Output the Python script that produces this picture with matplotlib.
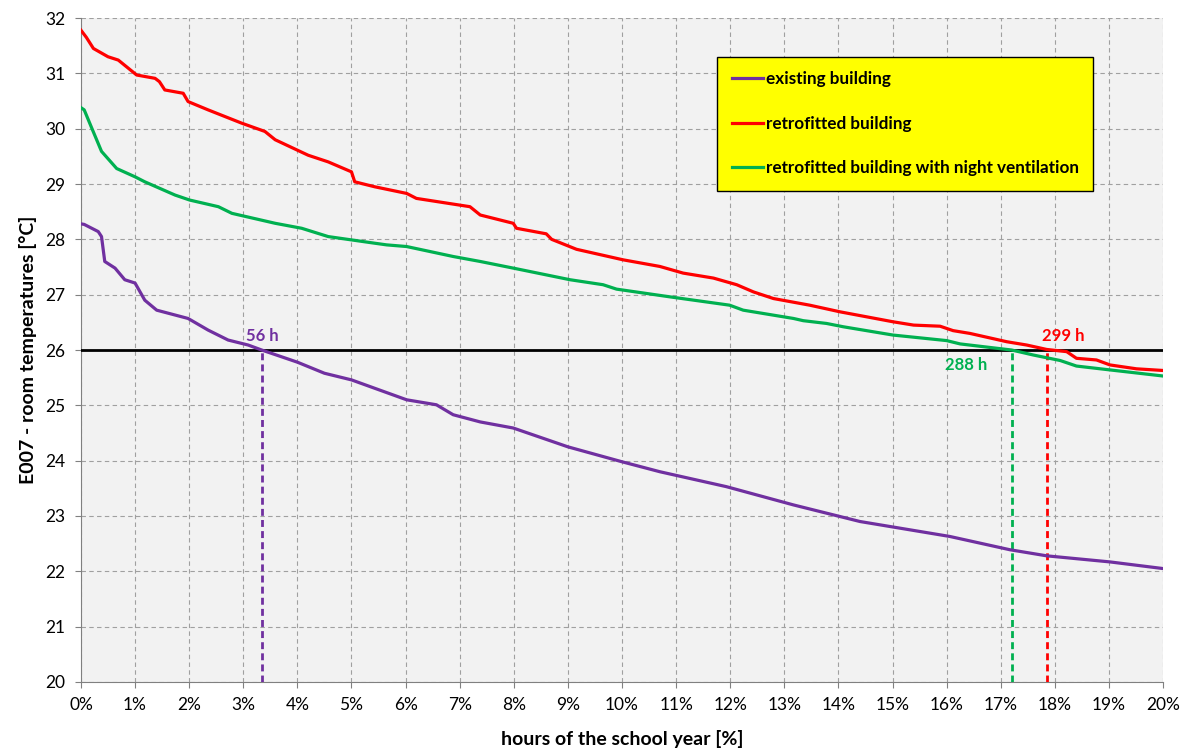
import matplotlib.pyplot as plt

plt.rcParams['font.family'] = ['Lato', 'DejaVu Sans']

# hours of the school year [%] / room temperature [°C]
x_exist = [0, 0.06, 0.32, 0.38, 0.44, 0.63, 0.81, 1.0, 1.18, 1.40, 1.98, 2.35, 2.72, 3.09, 3.34,
           4.0, 4.5, 5.0, 5.34, 6.02, 6.57, 6.88, 7.38, 7.99, 9.0, 10.0, 10.7, 11.93, 13.17,
           14.4, 16.06, 17.17, 17.85, 19.02, 20]
t_exist = [28.28, 28.27, 28.14, 28.05, 27.60, 27.48, 27.27, 27.21, 26.90, 26.72, 26.57, 26.36,
           26.18, 26.09, 26.00, 25.78, 25.58, 25.46, 25.34, 25.10, 25.01, 24.83, 24.70, 24.59,
           24.25, 23.98, 23.80, 23.53, 23.20, 22.90, 22.63, 22.39, 22.28, 22.17, 22.05]

x_retro = [0, 0.1, 0.23, 0.5, 0.69, 1.03, 1.37, 1.45, 1.55, 1.89, 1.98, 2.35, 2.97, 3.40, 3.59,
           4.20, 4.57, 5.0, 5.06, 5.43, 6.02, 6.2, 7.19, 7.38, 7.99, 8.05, 8.6, 8.7, 9.16, 10.02,
           10.7, 11.13, 11.69, 12.12, 12.43, 12.80, 13.47, 14.03, 15.01, 15.39, 15.88, 16.12,
           16.43, 17.11, 17.48, 17.85, 18.22, 18.40, 18.77, 19.02, 19.51, 20]
t_retro = [31.78, 31.65, 31.45, 31.30, 31.24, 30.97, 30.91, 30.85, 30.70, 30.64, 30.49, 30.34,
           30.10, 29.95, 29.80, 29.52, 29.40, 29.22, 29.04, 28.95, 28.83, 28.74, 28.59, 28.44,
           28.29, 28.20, 28.10, 28.00, 27.82, 27.63, 27.51, 27.39, 27.30, 27.18, 27.05, 26.93,
           26.81, 26.69, 26.51, 26.45, 26.43, 26.35, 26.30, 26.15, 26.09, 26.01, 25.97, 25.85,
           25.82, 25.73, 25.66, 25.63]

x_night = [0, 0.06, 0.2, 0.38, 0.66, 1.0, 1.18, 1.74, 2.01, 2.54, 2.79, 3.59, 4.08, 4.57, 5.43,
           5.65, 6.02, 6.88, 7.38, 7.99, 9.04, 9.65, 9.90, 10.89, 11.99, 12.24, 13.17, 13.35,
           13.78, 14.09, 15.01, 16.0, 16.25, 16.68, 17.2, 17.6, 18.1, 18.40, 19.02, 20]
t_night = [30.38, 30.34, 30.01, 29.59, 29.28, 29.13, 29.04, 28.80, 28.71, 28.59, 28.47, 28.29,
           28.20, 28.05, 27.93, 27.90, 27.87, 27.69, 27.60, 27.48, 27.27, 27.18, 27.10, 26.96,
           26.81, 26.72, 26.57, 26.53, 26.48, 26.42, 26.27, 26.17, 26.11, 26.06, 26.00, 25.91,
           25.81, 25.71, 25.64, 25.53]

limit = 26
cross_x = [3.35, 17.85, 17.2]          # existing, retrofitted, night ventilation
cross_lbl = ['56 h', '299 h', '288 h']

purple, red, green = '#7030A0', '#FF0000', '#00B050'

fig = plt.figure(figsize=(11.87, 7.51), dpi=100)
ax = fig.add_axes([0.0682, 0.0919, 0.9116, 0.8841])
ax.set_facecolor('#F2F2F2')

ax.plot(x_exist, t_exist, color=purple, lw=2.3, label='existing building', zorder=4)
ax.plot(x_retro, t_retro, color=red, lw=2.3, label='retrofitted building', zorder=4)
ax.plot(x_night, t_night, color=green, lw=2.3,
        label='retrofitted building with night ventilation', zorder=4)

ax.axhline(limit, color='black', lw=2, zorder=3)
for xc, c in zip(cross_x, [purple, red, green]):
    ax.plot([xc, xc], [20, limit], color=c, lw=2, ls=(0, (2.5, 1.5)), zorder=3)

ax.text(cross_x[0], 26.1, cross_lbl[0], color=purple, fontsize=12, fontweight='bold',
        ha='center', va='bottom')
ax.text(18.15, 26.1, cross_lbl[1], color=red, fontsize=12, fontweight='bold',
        ha='center', va='bottom')
ax.text(16.36, 25.73, cross_lbl[2], color=green, fontsize=12, fontweight='bold',
        ha='center', va='center')

ax.set_xlim(0, 20)
ax.set_ylim(20, 32)
ax.set_xticks(range(0, 21))
ax.set_xticklabels([f'{i}%' for i in range(0, 21)])
ax.set_yticks(range(20, 33))
ax.tick_params(labelsize=12.5, color='#808080', length=4, pad=7)
ax.grid(True, color='#A0A0A0', ls=(0, (4, 3)), lw=0.8)
ax.set_axisbelow(True)
for s in ['top', 'right']:
    ax.spines[s].set_visible(False)
for s in ['left', 'bottom']:
    ax.spines[s].set_color('#808080')

ax.set_xlabel('hours of the school year [%]', fontsize=14, fontweight='bold', labelpad=12)
ax.set_ylabel('E007 - room temperatures [°C]', fontsize=14, fontweight='bold', labelpad=6)

leg = ax.legend(loc='upper left', bbox_to_anchor=(0.588, 0.9415), borderaxespad=0,
                prop={'weight': 'bold', 'size': 12.3}, labelspacing=1.66, handlelength=1.85,
                handletextpad=0.15, borderpad=0.85, fancybox=False, framealpha=1)
leg.get_frame().set_facecolor('#FFFF00')
leg.get_frame().set_edgecolor('black')
leg.get_frame().set_linewidth(1.0)

plt.savefig('out.png', dpi=100)
